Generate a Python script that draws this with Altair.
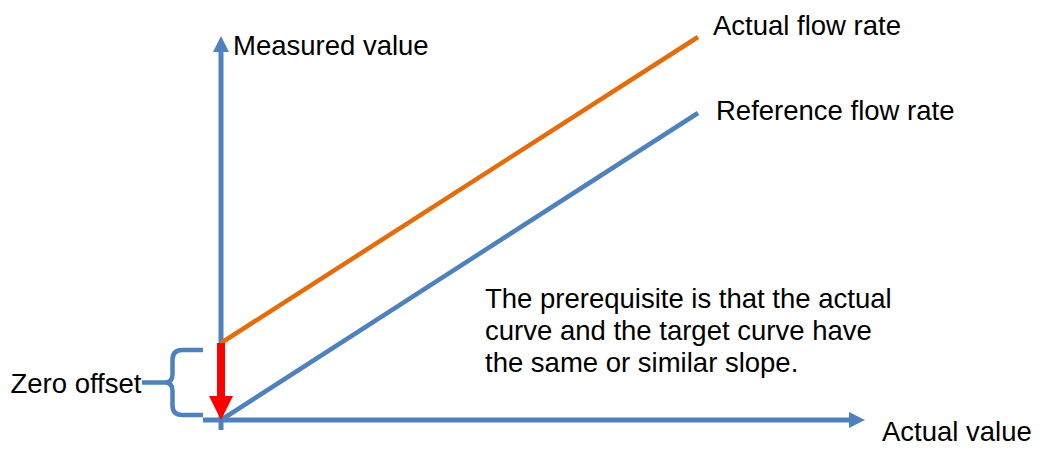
import altair as alt
import pandas as pd

# ---- data (x = actual value, y = measured value; origin at 0,0) ----
flow_x = [0, 477]
reference_flow = [0, 307]      # reference flow rate line
actual_flow = [77, 383]        # actual flow rate line
zero_offset = [77, 24]         # red arrow: actual curve start -> arrow head base
offset_head = [12]

x_axis_span = [-18, 628]
y_axis_span = [-10, 368]
x_axis_head = [636]
y_axis_head = [376]

brace_pos = [-48.5, 37.5]

label_text = ["Measured value", "Actual flow rate", "Reference flow rate",
              "Actual value", "Zero offset",
              "The prerequisite is that the actual",
              "curve and the target curve have",
              "the same or similar slope."]
label_x = [12, 492, 495, 661, -210.5, 264, 264, 264]
label_y = [365, 385, 300, -21, 27, 112, 80, 48]

BLUE = "#4F81BD"
ORANGE = "#E46C0A"
RED = "#FF0000"

xs = alt.Scale(domain=[-213, 812], nice=False, zero=False)
ys = alt.Scale(domain=[-27, 412], nice=False, zero=False)


def X(f="x"):
    return alt.X(f"{f}:Q", scale=xs, axis=None)


def Y(f="y"):
    return alt.Y(f"{f}:Q", scale=ys, axis=None)


lines_df = pd.DataFrame({
    "x": flow_x * 2,
    "y": reference_flow + actual_flow,
    "series": ["Reference flow rate"] * 2 + ["Actual flow rate"] * 2,
})

x_axis = alt.Chart(pd.DataFrame({"x": [x_axis_span[0]], "x2": [x_axis_span[1]], "y": [0]})).mark_rule(
    color=BLUE, strokeWidth=5).encode(x=X(), x2="x2:Q", y=Y())
y_axis = alt.Chart(pd.DataFrame({"x": [0], "y": [y_axis_span[0]], "y2": [y_axis_span[1]]})).mark_rule(
    color=BLUE, strokeWidth=5).encode(x=X(), y=Y(), y2="y2:Q")

x_head = alt.Chart(pd.DataFrame({"x": x_axis_head, "y": [0]})).mark_point(
    shape="M1,0L-1,1L-1,-1Z", size=256, filled=True, color=BLUE, opacity=1, strokeWidth=0
).encode(x=X(), y=Y())
y_head = alt.Chart(pd.DataFrame({"x": [0], "y": y_axis_head})).mark_point(
    shape="M0,-1L1,1L-1,1Z", size=256, filled=True, color=BLUE, opacity=1, strokeWidth=0
).encode(x=X(), y=Y())

flow_lines = alt.Chart(lines_df).mark_line(strokeWidth=4.5).encode(
    x=X(), y=Y(),
    color=alt.Color("series:N", scale=alt.Scale(domain=["Reference flow rate", "Actual flow rate"],
                                                range=[BLUE, ORANGE]), legend=None),
    detail="series:N",
)

red_shaft = alt.Chart(pd.DataFrame({"x": [0], "y": [zero_offset[0]], "y2": [zero_offset[1]]})).mark_rule(
    color=RED, strokeWidth=8).encode(x=X(), y=Y(), y2="y2:Q")
red_head = alt.Chart(pd.DataFrame({"x": [0], "y": offset_head})).mark_point(
    shape="M-1,-1L1,-1L0,1Z", size=576, filled=True, color=RED, opacity=1, strokeWidth=0
).encode(x=X(), y=Y())

brace = alt.Chart(pd.DataFrame({"x": [brace_pos[0]], "y": [brace_pos[1]]})).mark_point(
    shape="M0.94,-1L0.3,-1Q0,-1 0,-0.7L0,-0.25Q0,0 -0.25,0L-0.94,0M-0.25,0Q0,0 0,0.25L0,0.7Q0,1 0.3,1L0.94,1",
    size=4225, filled=False, color=BLUE, opacity=1, strokeWidth=4.5
).encode(x=X(), y=Y())

labels = alt.Chart(pd.DataFrame({"x": label_x, "y": label_y, "t": label_text})).mark_text(
    align="left", baseline="alphabetic", font="Liberation Sans", fontSize=27.5, color="black"
).encode(x=X(), y=Y(), text="t:N")

chart = alt.layer(
    x_axis, y_axis, x_head, y_head, flow_lines, brace, red_shaft, red_head, labels
).properties(
    width=1025, height=439, padding=0, autosize=alt.AutoSizeParams(type="none"),
    background="white",
).configure_view(stroke=None)

chart.save("out.html", embed_options={"renderer": "svg", "actions": False})
